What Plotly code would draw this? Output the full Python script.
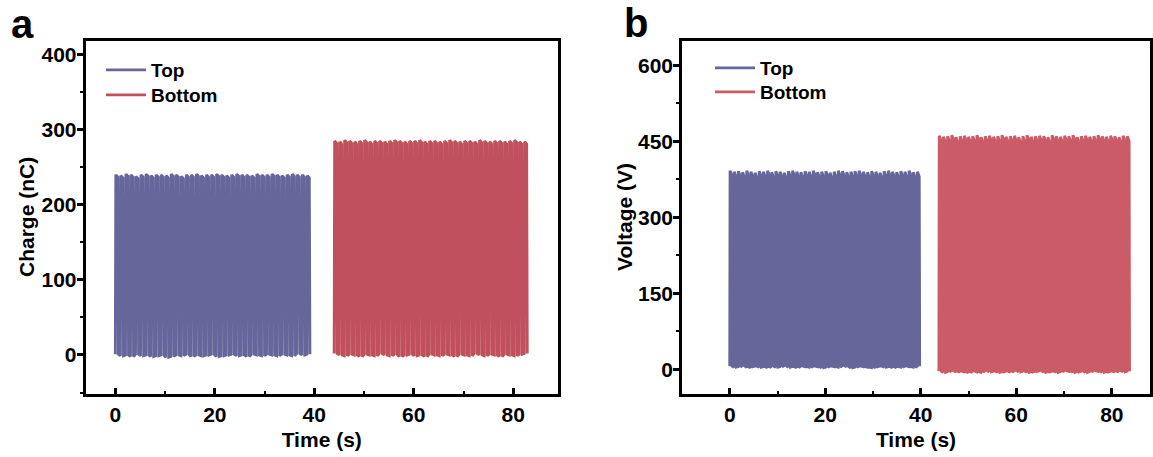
import plotly.graph_objects as go

# ---------------- data ----------------
# Panel a: Charge (nC). Cycle start times (s), peak and trough values per cycle
charge_top_start = [0.00, 1.01, 2.03, 3.04, 4.05, 5.06, 6.08, 7.09, 8.10, 9.12,
                    10.13, 11.14, 12.15, 13.17, 14.18, 15.19, 16.21, 17.22, 18.23, 19.24,
                    20.26, 21.27, 22.28, 23.30, 24.31, 25.32, 26.33, 27.35, 28.36, 29.37,
                    30.39, 31.40, 32.41, 33.42, 34.44, 35.45, 36.46, 37.48, 38.49]
charge_top_peak = [240, 239, 241, 240, 238, 240, 241, 239, 240, 240,
                   239, 241, 240, 238, 240, 240, 241, 239, 240, 240,
                   241, 240, 239, 240, 241, 240, 240, 239, 241, 240,
                   240, 241, 240, 239, 240, 241, 240, 240, 239]
charge_top_trough = [1, -1, 0, -2, 1, -1, 0, -2, -1, 0,
                     -3, -2, 0, -1, 1, -2, 0, -1, 0, 1,
                     -2, -1, 0, 1, -1, 0, -2, 1, 0, -1,
                     1, 0, -1, 1, 0, -1, 2, 0, 1]

charge_bot_start = [44.00, 45.00, 46.01, 47.01, 48.02, 49.02, 50.03, 51.03, 52.04, 53.04,
                    54.05, 55.05, 56.06, 57.06, 58.07, 59.07, 60.08, 61.08, 62.09, 63.09,
                    64.10, 65.10, 66.11, 67.11, 68.12, 69.12, 70.13, 71.13, 72.14, 73.14,
                    74.15, 75.15, 76.16, 77.16, 78.17, 79.17, 80.18, 81.18, 82.19]
charge_bot_peak = [285, 284, 286, 285, 284, 285, 286, 284, 285, 285,
                   284, 285, 286, 285, 284, 285, 285, 286, 284, 285,
                   285, 284, 285, 286, 285, 284, 285, 285, 284, 286,
                   285, 284, 285, 285, 284, 285, 286, 284, 284]
charge_bot_trough = [2, 0, -1, 1, 0, -2, 1, 0, -1, 2,
                     0, -1, 1, -2, 0, 1, -1, 0, -2, 1,
                     0, -1, 1, 0, -2, 1, 0, -1, 2, 0,
                     -1, 1, 0, -2, 1, 0, -1, 1, 2]

# Panel b: Voltage (V)
volt_top_start = [0.00, 0.87, 1.74, 2.62, 3.49, 4.36, 5.23, 6.10, 6.98, 7.85,
                  8.72, 9.59, 10.46, 11.34, 12.21, 13.08, 13.95, 14.82, 15.70, 16.57,
                  17.44, 18.31, 19.18, 20.06, 20.93, 21.80, 22.67, 23.54, 24.42, 25.29,
                  26.16, 27.03, 27.90, 28.78, 29.65, 30.52, 31.39, 32.26, 33.14, 34.01,
                  34.88, 35.75, 36.62, 37.50, 38.37, 39.24]
volt_top_peak = [392, 390, 391, 389, 392, 390, 388, 391, 390, 392,
                 389, 391, 390, 388, 391, 392, 390, 389, 391, 390,
                 392, 389, 390, 391, 388, 390, 392, 391, 389, 390,
                 391, 392, 390, 389, 391, 390, 388, 391, 392, 390,
                 389, 391, 390, 392, 389, 390]
volt_top_trough = [6, 4, 5, 7, 3, 5, 6, 4, 5, 3,
                   6, 4, 5, 7, 4, 5, 3, 6, 5, 4,
                   6, 5, 3, 4, 6, 5, 4, 7, 5, 3,
                   4, 6, 5, 4, 3, 5, 6, 4, 5, 3,
                   5, 4, 6, 5, 4, 6]

volt_bot_start = [43.80, 44.68, 45.55, 46.43, 47.30, 48.18, 49.05, 49.93, 50.80, 51.68,
                  52.55, 53.43, 54.30, 55.18, 56.05, 56.93, 57.80, 58.68, 59.55, 60.43,
                  61.30, 62.18, 63.05, 63.93, 64.80, 65.68, 66.55, 67.43, 68.30, 69.18,
                  70.05, 70.93, 71.80, 72.68, 73.55, 74.43, 75.30, 76.18, 77.05, 77.93,
                  78.80, 79.68, 80.55, 81.43, 82.30, 83.18]
volt_bot_peak = [461, 459, 460, 462, 458, 460, 461, 459, 460, 462,
                 458, 460, 461, 459, 460, 462, 459, 460, 461, 458,
                 460, 462, 459, 460, 461, 460, 458, 462, 460, 459,
                 461, 460, 462, 458, 460, 461, 459, 460, 462, 460,
                 459, 461, 460, 458, 461, 460]
volt_bot_trough = [-4, -6, -5, -3, -6, -4, -5, -7, -4, -5,
                   -6, -3, -5, -4, -6, -5, -4, -6, -3, -5,
                   -4, -6, -5, -4, -3, -6, -5, -4, -6, -5,
                   -3, -4, -6, -5, -4, -6, -5, -3, -4, -6,
                   -5, -4, -6, -3, -5, -4]

legend_names = ["Top", "Bottom"]
x_ticks = [0, 20, 40, 60, 80]
charge_ticks = [0, 100, 200, 300, 400]
volt_ticks = [0, 150, 300, 450, 600]

# ---------------- styling ----------------
BLUE = "#66669B"
RED_A = "#C1505D"
RED_B = "#CB5B67"
FONT = "Liberation Sans, Arial, sans-serif"


def waveform(starts, peaks, troughs, rise, hold, fall, sag):
    """Build a line from the per-cycle key values (rise / plateau / fall / rest)."""
    xs, ys = [], []
    for i, (t0, pk, tr) in enumerate(zip(starts, peaks, troughs)):
        nxt = starts[i + 1] if i + 1 < len(starts) else t0 + (t0 - starts[i - 1])
        period = nxt - t0
        xs += [t0, t0 + rise * period, t0 + hold * period, t0 + (hold + fall) * period]
        ys += [tr, pk, pk - sag, tr]
    return xs, ys


fig = go.Figure()

series = [
    ("x", "y", charge_top_start, charge_top_peak, charge_top_trough, BLUE, legend_names[0], "legend", 0.10, 0.50, 0.12, 3),
    ("x", "y", charge_bot_start, charge_bot_peak, charge_bot_trough, RED_A, legend_names[1], "legend2", 0.10, 0.50, 0.12, 3),
    ("x2", "y2", volt_top_start, volt_top_peak, volt_top_trough, BLUE, legend_names[0], "legend3", 0.08, 0.50, 0.10, 10),
    ("x2", "y2", volt_bot_start, volt_bot_peak, volt_bot_trough, RED_B, legend_names[1], "legend4", 0.08, 0.50, 0.10, 10),
]
for xa, ya, st, pk, tr, col, name, leg, r, h, f, sag in series:
    xs, ys = waveform(st, pk, tr, r, h, f, sag)
    fig.add_trace(go.Scatter(x=xs, y=ys, mode="lines", name=name, xaxis=xa, yaxis=ya,
                             legend=leg, showlegend=True, line=dict(color=col, width=2.9)))

W, H = 1153, 457
ytop, ybot = 40.5, 394
dom_y = [1 - ybot / H, 1 - ytop / H]

tickfont = dict(family=FONT, size=21, color="black", weight="bold")
titlefont = dict(family=FONT, size=21, color="black", weight="bold")
legfont = dict(family=FONT, size=19, color="black", weight="bold")

common_x = dict(showline=True, mirror=True, linewidth=2.5, linecolor="black",
                ticks="inside", ticklen=6, tickwidth=2.5, tickcolor="black",
                showgrid=False, zeroline=False, tickfont=tickfont, tickvals=x_ticks,
                minor=dict(ticks="inside", ticklen=3, tickwidth=2, dtick=10, tickcolor="black", showgrid=False),
                title=dict(text="Time (s)", font=titlefont, standoff=8))
common_y = dict(showline=True, mirror=True, linewidth=2.5, linecolor="black",
                ticks="outside", ticklen=6, tickwidth=2.5, tickcolor="black",
                showgrid=False, zeroline=False, tickfont=tickfont, ticklabelstandoff=-4)


def leg(x, y):
    return dict(x=x / W, y=1 - y / H, xanchor="left", yanchor="top",
                bgcolor="rgba(0,0,0,0)", font=legfont, itemwidth=40)


def ytitle(text, x):
    return dict(text=text, x=x / W, y=1 - 217 / H, xref="paper", yref="paper", showarrow=False,
                textangle=-90, font=titlefont, xanchor="center", yanchor="middle")


fig.update_layout(
    width=W, height=H, margin=dict(l=0, r=0, t=0, b=0),
    paper_bgcolor="white", plot_bgcolor="white", showlegend=True,
    xaxis=dict(domain=[85.5 / W, 558 / W], range=[-6, 89], anchor="y", **common_x),
    yaxis=dict(domain=dom_y, range=[-52, 419], anchor="x", tickvals=charge_ticks,
               minor=dict(ticks="outside", ticklen=3, tickwidth=2, dtick=50, tickcolor="black", showgrid=False),
               **common_y),
    xaxis2=dict(domain=[682 / W, 1150 / W], range=[-10, 88], anchor="y2", **common_x),
    yaxis2=dict(domain=dom_y, range=[-49, 649], anchor="x2", tickvals=volt_ticks,
                minor=dict(ticks="outside", ticklen=3, tickwidth=2, dtick=75, tickcolor="black", showgrid=False),
                **common_y),
    legend=leg(101, 51),
    legend2=leg(101, 76),
    legend3=leg(710, 49),
    legend4=leg(710, 73),
    annotations=[
        dict(text="a", x=22 / W, y=1 - 24 / H, xref="paper", yref="paper", showarrow=False,
             font=dict(family=FONT, size=40, color="black", weight="bold"), xanchor="center", yanchor="middle"),
        dict(text="b", x=636 / W, y=1 - 23 / H, xref="paper", yref="paper", showarrow=False,
             font=dict(family=FONT, size=40, color="black", weight="bold"), xanchor="center", yanchor="middle"),
        ytitle("Charge (nC)", 27),
        ytitle("Voltage (V)", 625),
    ],
)

fig.write_html("out.html")
